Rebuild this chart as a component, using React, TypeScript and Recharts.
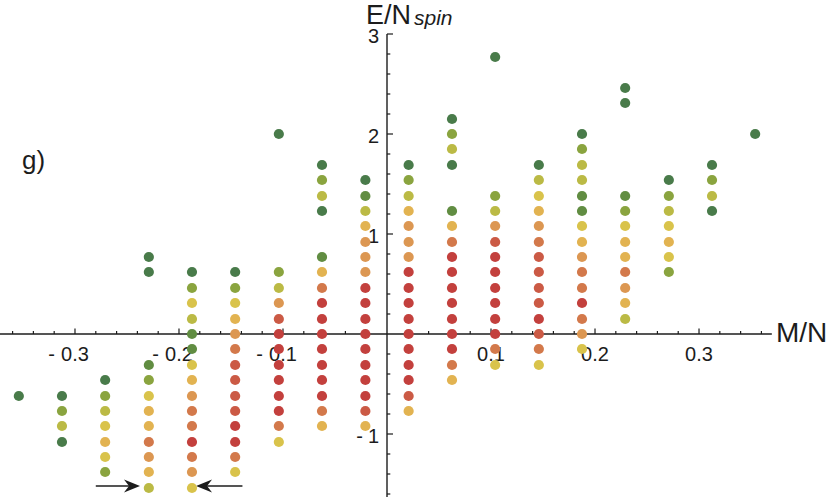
import React from 'react';
import { ScatterChart, Scatter, XAxis, YAxis, ReferenceLine } from 'recharts';

const W = 831;
const H = 497;
const X_DOMAIN: [number, number] = [-0.3721, 0.4269];
const Y_DOMAIN: [number, number] = [-1.63, 3.34];

const COLORS: Record<string, string> = {
  G1: '#497b4a',
  G2: '#618d42',
  G3: '#8aa43f',
  Y1: '#bbba45',
  Y2: '#d9c34b',
  O1: '#e2b351',
  O2: '#dc9752',
  O3: '#d3794b',
  R1: '#cb5a45',
  R2: '#c3403d',
};

type Pt = [number, string];

// Column x positions (M/N)
const columnX = [
  -0.354, -0.3125, -0.271, -0.229, -0.1875, -0.146, -0.104, -0.0625, -0.0208,
  0.0208, 0.0625, 0.104, 0.146, 0.1875, 0.229, 0.271, 0.3125, 0.354,
];

// Per-column points: [E/N_spin, colour key]
const colM17: Pt[] = [[-0.62, 'G1']];
const colM15: Pt[] = [[-0.62, 'G1'], [-0.77, 'G3'], [-0.92, 'Y1'], [-1.08, 'G1']];
const colM13: Pt[] = [
  [-0.46, 'G1'], [-0.62, 'G3'], [-0.77, 'Y1'], [-0.92, 'Y2'], [-1.08, 'O1'], [-1.23, 'Y2'], [-1.38, 'G3'],
];
const colM11: Pt[] = [
  [0.77, 'G1'], [0.62, 'G1'], [-0.31, 'G2'], [-0.46, 'G3'], [-0.62, 'Y2'], [-0.77, 'O1'],
  [-0.92, 'O1'], [-1.08, 'O3'], [-1.23, 'O2'], [-1.38, 'O1'], [-1.54, 'Y1'],
];
const colM9: Pt[] = [
  [0.62, 'G1'], [0.46, 'G3'], [0.31, 'Y2'], [0.15, 'Y1'], [0, 'G2'], [-0.15, 'G2'], [-0.31, 'Y2'],
  [-0.46, 'O1'], [-0.62, 'O2'], [-0.77, 'O3'], [-0.92, 'O3'], [-1.08, 'R2'], [-1.23, 'O3'],
  [-1.38, 'O2'], [-1.54, 'Y2'],
];
const colM7: Pt[] = [
  [0.62, 'G1'], [0.46, 'G3'], [0.31, 'Y2'], [0.15, 'O1'], [0, 'O2'], [-0.15, 'O3'], [-0.31, 'R1'],
  [-0.46, 'R1'], [-0.62, 'R1'], [-0.77, 'R1'], [-0.92, 'R2'], [-1.08, 'R2'], [-1.23, 'O3'], [-1.38, 'Y2'],
];
const colM5: Pt[] = [
  [2.0, 'G1'], [0.62, 'G3'], [0.46, 'Y1'], [0.31, 'O2'], [0.15, 'R1'], [0, 'R2'], [-0.15, 'R2'],
  [-0.31, 'R2'], [-0.46, 'R2'], [-0.62, 'R2'], [-0.77, 'R2'], [-0.92, 'O3'], [-1.08, 'Y2'],
];
const colM3: Pt[] = [
  [1.69, 'G1'], [1.54, 'G3'], [1.38, 'Y1'], [1.23, 'G1'], [0.77, 'G2'], [0.62, 'O1'], [0.46, 'O3'],
  [0.31, 'R2'], [0.15, 'R2'], [0, 'R2'], [-0.15, 'R2'], [-0.31, 'R2'], [-0.46, 'R2'], [-0.62, 'R2'],
  [-0.77, 'O3'], [-0.92, 'O1'],
];
const colM1: Pt[] = [
  [1.54, 'G1'], [1.38, 'G2'], [1.23, 'Y1'], [1.08, 'O1'], [0.92, 'O2'], [0.77, 'O2'], [0.62, 'O2'],
  [0.46, 'R2'], [0.31, 'R2'], [0.15, 'R2'], [0, 'R2'], [-0.15, 'R2'], [-0.31, 'R2'], [-0.46, 'R2'],
  [-0.62, 'R2'], [-0.77, 'R1'], [-0.92, 'O1'],
];
const colP1: Pt[] = [
  [1.69, 'G1'], [1.54, 'G3'], [1.38, 'Y1'], [1.23, 'O1'], [1.08, 'O2'], [0.92, 'O2'], [0.77, 'O2'],
  [0.62, 'R2'], [0.46, 'R2'], [0.31, 'R2'], [0.15, 'R2'], [0, 'R2'], [-0.15, 'R2'], [-0.31, 'R2'],
  [-0.46, 'R2'], [-0.62, 'R1'], [-0.77, 'O1'],
];
const colP3: Pt[] = [
  [2.15, 'G1'], [2.0, 'G3'], [1.85, 'Y1'], [1.69, 'G1'], [1.23, 'G2'], [1.08, 'O1'], [0.92, 'O3'],
  [0.77, 'R2'], [0.62, 'R2'], [0.46, 'R2'], [0.31, 'R2'], [0.15, 'R2'], [0, 'R2'], [-0.15, 'R2'],
  [-0.31, 'O3'], [-0.46, 'O1'],
];
const colP5: Pt[] = [
  [2.77, 'G1'], [1.38, 'G3'], [1.23, 'Y1'], [1.08, 'O2'], [0.92, 'R1'], [0.77, 'R2'], [0.62, 'R2'],
  [0.46, 'R2'], [0.31, 'R2'], [0.15, 'R2'], [0, 'R2'], [-0.15, 'O3'], [-0.31, 'Y2'],
];
const colP7: Pt[] = [
  [1.69, 'G1'], [1.54, 'Y1'], [1.38, 'Y2'], [1.23, 'O1'], [1.08, 'O2'], [0.92, 'O3'], [0.77, 'R1'],
  [0.62, 'R1'], [0.46, 'R1'], [0.31, 'R1'], [0.15, 'R2'], [0, 'R1'], [-0.15, 'O3'], [-0.31, 'Y2'],
];
const colP9: Pt[] = [
  [2.0, 'G1'], [1.85, 'G3'], [1.69, 'Y1'], [1.54, 'Y1'], [1.38, 'G2'], [1.23, 'G2'], [1.08, 'Y2'],
  [0.92, 'O1'], [0.77, 'O2'], [0.62, 'O3'], [0.46, 'O3'], [0.31, 'R2'], [0.15, 'O3'], [0, 'O2'],
  [-0.15, 'Y2'],
];
const colP11: Pt[] = [
  [2.46, 'G1'], [2.31, 'G1'], [1.38, 'G2'], [1.23, 'G3'], [1.08, 'Y2'], [0.92, 'O1'], [0.77, 'O1'],
  [0.62, 'O3'], [0.46, 'O2'], [0.31, 'O1'], [0.15, 'Y1'],
];
const colP13: Pt[] = [
  [1.54, 'G1'], [1.38, 'G3'], [1.23, 'Y1'], [1.08, 'Y2'], [0.92, 'O1'], [0.77, 'Y2'], [0.62, 'G3'],
];
const colP15: Pt[] = [[1.69, 'G1'], [1.54, 'G3'], [1.38, 'Y1'], [1.23, 'G1']];
const colP17: Pt[] = [[2.0, 'G1']];

const columnPoints: Pt[][] = [
  colM17, colM15, colM13, colM11, colM9, colM7, colM5, colM3, colM1,
  colP1, colP3, colP5, colP7, colP9, colP11, colP13, colP15, colP17,
];

// Axis ticks and labels
const xMajorTicks = [-0.3, -0.2, -0.1, 0.1, 0.2, 0.3];
const xTickLabels = ['- 0.3', '- 0.2', '- 0.1', '0.1', '0.2', '0.3'];
const xMinorTicks = [
  -0.36, -0.34, -0.32, -0.28, -0.26, -0.24, -0.22, -0.18, -0.16, -0.14, -0.12, -0.08, -0.06, -0.04, -0.02,
  0.02, 0.04, 0.06, 0.08, 0.12, 0.14, 0.16, 0.18, 0.22, 0.24, 0.26, 0.28, 0.32, 0.34, 0.36,
];
const yMajorTicks = [-1, 1, 2, 3];
const yTickLabels = ['- 1', '1', '2', '3'];
const yMinorTicks = [
  -1.6, -1.4, -1.2, -0.8, -0.6, -0.4, -0.2, 0.2, 0.4, 0.6, 0.8, 1.2, 1.4, 1.6, 1.8, 2.2, 2.4, 2.6, 2.8,
];

// Arrows marking the two columns at the lowest level
const arrowY = -1.52;
const arrowLeft: [number, number] = [-0.28, -0.2375];
const arrowRight: [number, number] = [-0.139, -0.1836];

const FONT = '"Liberation Sans", Arial, Helvetica, sans-serif';
const INK = '#1c1c1c';

const points = columnX.flatMap((x, i) =>
  columnPoints[i].map(([y, c]) => ({ x, y, fill: COLORS[c] }))
);
const xMinorData = xMinorTicks.map((x) => ({ x, y: 0 }));
const xMajorData = xMajorTicks.map((x, i) => ({ x, y: 0, label: xTickLabels[i] }));
const yMinorData = yMinorTicks.map((y) => ({ x: 0, y }));
const yMajorData = yMajorTicks.map((y, i) => ({ x: 0, y, label: yTickLabels[i] }));

const dotShape = (p: any) => <circle cx={p.cx} cy={p.cy} r={5.1} fill={p.payload.fill} />;

const xMinorShape = (p: any) => (
  <line x1={p.cx} y1={p.cy} x2={p.cx} y2={p.cy - 3} stroke={INK} strokeWidth={1.2} />
);
const xMajorShape = (p: any) => {
  const lab: string = p.payload.label;
  const neg = lab.startsWith('-');
  const num = neg ? lab.slice(2) : lab;
  return (
    <g>
      <line x1={p.cx} y1={p.cy} x2={p.cx} y2={p.cy - 5.5} stroke={INK} strokeWidth={1.2} />
      <text x={p.cx} y={p.cy + 27} textAnchor="middle" fontSize={20} fontFamily={FONT} fill={INK}>
        {num}
      </text>
      {neg && (
        <text x={p.cx - 20} y={p.cy + 27} textAnchor="end" fontSize={20} fontFamily={FONT} fill={INK}>
          -
        </text>
      )}
    </g>
  );
};
const yMinorShape = (p: any) => (
  <line x1={p.cx} y1={p.cy} x2={p.cx + 3.3} y2={p.cy} stroke={INK} strokeWidth={1.2} />
);
const yMajorShape = (p: any) => {
  const lab: string = p.payload.label;
  const neg = lab.startsWith('-');
  const num = neg ? lab.slice(2) : lab;
  return (
    <g>
      <line x1={p.cx} y1={p.cy} x2={p.cx + 6} y2={p.cy} stroke={INK} strokeWidth={1.2} />
      <text x={p.cx - 8} y={p.cy + 8.5} textAnchor="end" fontSize={20} fontFamily={FONT} fill={INK}>
        {num}
      </text>
      {neg && (
        <text x={p.cx - 24} y={p.cy + 8.5} textAnchor="end" fontSize={20} fontFamily={FONT} fill={INK}>
          -
        </text>
      )}
    </g>
  );
};

const arrowShape = (props: any) => {
  const { x1, y1, x2, y2 } = props;
  const dx = x2 - x1;
  const dy = y2 - y1;
  const len = Math.hypot(dx, dy) || 1;
  const ux = dx / len;
  const uy = dy / len;
  const px = -uy;
  const py = ux;
  const L = 16;
  const hw = 6.5;
  const notch = 11;
  const bx = x2 - ux * L;
  const by = y2 - uy * L;
  const nx = x2 - ux * notch;
  const ny = y2 - uy * notch;
  const pts = `${x2},${y2} ${bx + px * hw},${by + py * hw} ${nx},${ny} ${bx - px * hw},${by - py * hw}`;
  return (
    <g>
      <line x1={x1} y1={y1} x2={nx} y2={ny} stroke={INK} strokeWidth={1.6} />
      <polygon points={pts} fill={INK} />
    </g>
  );
};

export default function App() {
  return (
    <div style={{ position: 'absolute', left: 0, top: 0, width: W, height: H, background: '#fff' }}>
      <ScatterChart width={W} height={H} margin={{ top: 0, right: 0, bottom: 0, left: 0 }}>
        <XAxis type="number" dataKey="x" domain={X_DOMAIN} allowDataOverflow hide />
        <YAxis type="number" dataKey="y" domain={Y_DOMAIN} allowDataOverflow hide />
        <ReferenceLine
          segment={[{ x: X_DOMAIN[0], y: 0 }, { x: 0.37, y: 0 }]}
          stroke={INK}
          strokeWidth={1.4}
          ifOverflow="visible"
        />
        <ReferenceLine
          segment={[{ x: 0, y: 3 }, { x: 0, y: Y_DOMAIN[0] }]}
          stroke={INK}
          strokeWidth={1.4}
          ifOverflow="visible"
        />
        <Scatter data={xMinorData} shape={xMinorShape} isAnimationActive={false} />
        <Scatter data={xMajorData} shape={xMajorShape} isAnimationActive={false} />
        <Scatter data={yMinorData} shape={yMinorShape} isAnimationActive={false} />
        <Scatter data={yMajorData} shape={yMajorShape} isAnimationActive={false} />
        <Scatter data={points} shape={dotShape} isAnimationActive={false} />
        <ReferenceLine
          segment={[{ x: arrowLeft[0], y: arrowY }, { x: arrowLeft[1], y: arrowY }]}
          stroke={INK}
          ifOverflow="visible"
          shape={arrowShape}
        />
        <ReferenceLine
          segment={[{ x: arrowRight[0], y: arrowY }, { x: arrowRight[1], y: arrowY }]}
          stroke={INK}
          ifOverflow="visible"
          shape={arrowShape}
        />
        <text x={776} y={342} fontSize={28} fontFamily={FONT} fill={INK}>
          M/N
        </text>
        <text x={366} y={24} fontFamily={FONT} fill={INK}>
          <tspan fontSize={27}>E/N</tspan>
          <tspan fontSize={21} fontStyle="italic" dx={3} dy={1}>
            spin
          </tspan>
        </text>
        <text x={22} y={169} fontSize={26} fontFamily={FONT} fill={INK}>
          g)
        </text>
      </ScatterChart>
    </div>
  );
}
